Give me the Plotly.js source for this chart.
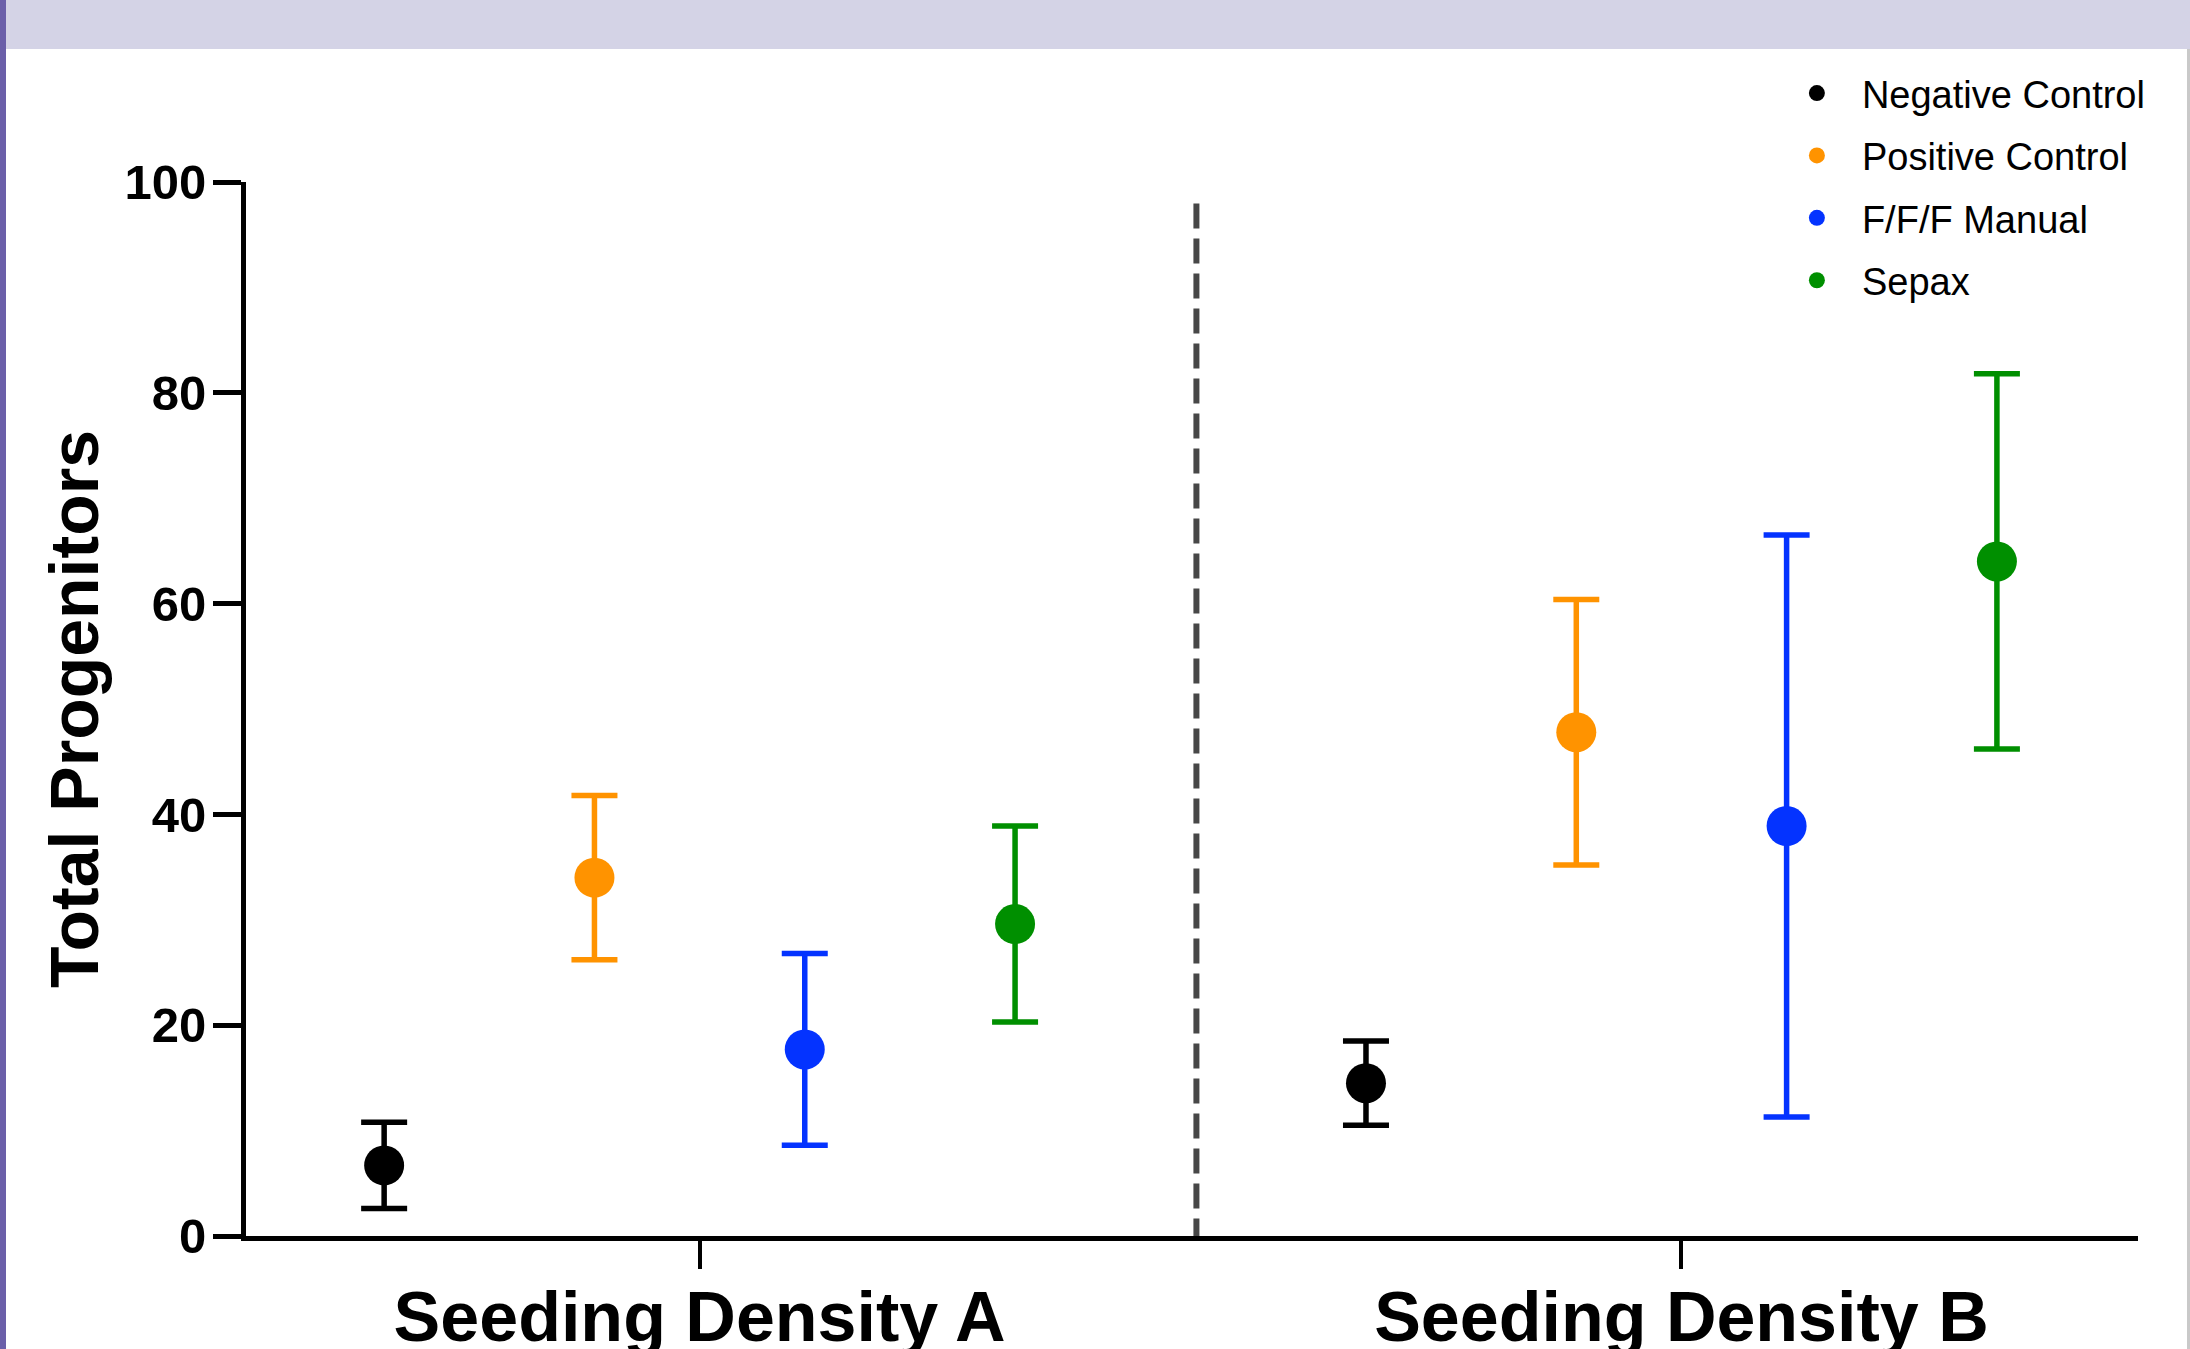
<!DOCTYPE html>
<html>
<head>
<meta charset="utf-8">
<script src="https://cdn.plot.ly/plotly-3.0.1.min.js"></script>
<style>
  html, body { margin: 0; padding: 0; background: #ffffff; }
  #band { position: absolute; left: 0; top: 0; width: 2190px; height: 49px; background: #d4d3e6; }
  #lborder { position: absolute; left: 0; top: 0; width: 6px; height: 1349px; background: #6b5fa9; }
  #rborder { position: absolute; left: 2187px; top: 49px; width: 3px; height: 1300px; background: #c9c9c9; }
  #chart { position: absolute; left: 0; top: 0; width: 2190px; height: 1349px; }
</style>
</head>
<body>
<div id="band"></div>
<div id="lborder"></div>
<div id="rborder"></div>
<div id="chart"></div>
<script>
// ---- data ----
const categories = ["Seeding Density A", "Seeding Density B"];
const seriesNames = ["Negative Control", "Positive Control", "F/F/F Manual", "Sepax"];
const negativeControl = [6.7, 14.5];
const negativeControlErr = [4.1, 4.0];
const positiveControl = [34.0, 47.8];
const positiveControlErr = [7.8, 12.6];
const fffManual = [17.7, 38.9];
const fffManualErr = [9.1, 27.6];
const sepax = [29.6, 64.0];
const sepaxErr = [9.3, 17.8];
const yTicks = [0, 20, 40, 60, 80, 100];

const seriesValues = [negativeControl, positiveControl, fffManual, sepax];
const seriesErrs = [negativeControlErr, positiveControlErr, fffManualErr, sepaxErr];
const colors = ["#000000", "#ff9300", "#0433ff", "#008f00"];

const step = 0.2142;  // horizontal offset between series within a group
const FONT = "Liberation Sans, Arial, Helvetica, sans-serif";

const traces = seriesNames.map((name, si) => ({
  type: "scatter",
  mode: "markers",
  name: name,
  legendgroup: "g" + si,
  x: categories.map((c, gi) => gi + (si - 1.5) * step),
  y: seriesValues[si],
  marker: { size: 40, color: colors[si] },
  error_y: { type: "data", array: seriesErrs[si], visible: true, thickness: 5.5, width: 23, color: colors[si] },
  cliponaxis: false,
  hoverinfo: "x+y"
}));

const layout = {
  width: 2190,
  height: 1349,
  margin: { l: 246, r: 52, t: 182, b: 113, autoexpand: false },
  paper_bgcolor: "rgba(0,0,0,0)",
  plot_bgcolor: "rgba(0,0,0,0)",
  font: { family: FONT, color: "#000000" },
  showlegend: true,
  legend: {
    x: 0.8065, xanchor: "left", y: 1.114, yanchor: "top",
    font: { family: FONT, size: 38, color: "#000000" },
    bgcolor: "rgba(0,0,0,0)",
    tracegroupgap: 10,
    itemwidth: 80
  },
  xaxis: {
    range: [-0.462, 1.465],
    tickmode: "array",
    tickvals: categories.map((c, i) => i),
    ticktext: categories,
    showline: true, linecolor: "#000000", linewidth: 5,
    ticks: "outside", ticklen: 28, tickwidth: 4, tickcolor: "#000000",
    tickfont: { family: FONT, size: 70, color: "#000000", weight: "bold" },
    ticklabelstandoff: -12,
    showgrid: false, zeroline: false, fixedrange: true
  },
  yaxis: {
    range: [0, 100],
    tickmode: "array",
    tickvals: yTicks,
    ticktext: yTicks.map(String),
    showline: true, linecolor: "#000000", linewidth: 5,
    ticks: "outside", ticklen: 28, tickwidth: 5, tickcolor: "#000000",
    tickfont: { family: FONT, size: 49, color: "#000000", weight: "bold" },
    ticklabelstandoff: -3,
    showgrid: false, zeroline: false, fixedrange: true,
    title: { text: "Total Progenitors", font: { family: FONT, size: 68, color: "#000000", weight: "bold" }, standoff: 5 }
  },
  shapes: [{
    type: "line", xref: "x", yref: "y",
    x0: 0.506, x1: 0.506, y0: -0.7, y1: 98.8,
    line: { color: "#474747", width: 6, dash: "25px,10px" }
  }]
};

Plotly.newPlot("chart", traces, layout, { displayModeBar: false, staticPlot: true });
</script>
</body>
</html>
